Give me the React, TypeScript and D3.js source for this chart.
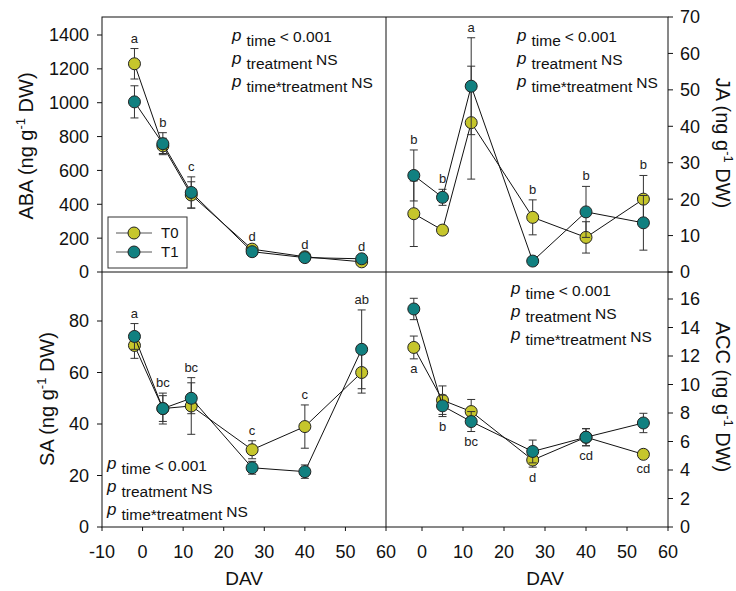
import * as d3 from "d3";
import React from "react";

// sampling days (DAV)
const days = [-2, 5, 12, 27, 40, 54];

// ABA (ng g-1 DW)
const abaT0 = [1230, 745, 455, 135, 90, 60];
const abaT0Err = [90, 45, 78, 15, 10, 10];
const abaT1 = [1005, 758, 470, 120, 85, 78];
const abaT1Err = [95, 65, 92, 15, 10, 10];
const abaLetters = ["a", "b", "c", "d", "d", "d"];

// JA (ng g-1 DW)
const jaT0 = [16, 11.5, 41, 15, 9.5, 20];
const jaT0Err = [9, 1, 15.5, 4.8, 4.3, 6.5];
const jaT1 = [26.5, 20.5, 51, 3, 16.5, 13.5];
const jaT1Err = [7, 2.2, 13.3, 1, 7, 7.5];
const jaLetters = ["b", "b", "a", "b", "b", "b"];

// SA (ng g-1 DW)
const saT0 = [70.5, 46, 47, 30, 39, 60];
const saT0Err = [5, 6, 11, 3.5, 8.4, 8];
const saT1 = [74, 46, 50, 23, 21.5, 69];
const saT1Err = [5, 5, 6, 2.5, 2.6, 15.3];
const saLetters = ["a", "bc", "bc", "c", "c", "ab"];

// ACC (ng g-1 DW)
const accT0 = [12.6, 8.9, 8.1, 4.7, 6.3, 5.1];
const accT0Err = [0.8, 1.0, 0.85, 0.5, 0.6, 0.3];
const accT1 = [15.3, 8.5, 7.4, 5.3, 6.3, 7.3];
const accT1Err = [0.75, 0.75, 0.7, 0.8, 0.6, 0.68];
const accLetters = ["a", "b", "bc", "d", "cd", "cd"];

const xTicks = [-10, 0, 10, 20, 30, 40, 50, 60];

const font = "'Liberation Sans', Arial, sans-serif";
const colT0 = "#c6c62c";
const colT1 = "#118080";

// frame
const L = 102;
const M = 386;
const R = 668;
const T = 17;
const MID = 272;
const B = 527;

const xLeft = d3.scaleLinear().domain([-10, 60]).range([L, M]);
const xRight = d3.scaleLinear().domain([-10, 60]).range([381, R]);

const panels = [
  {
    key: "aba",
    x: xLeft,
    y: d3.scaleLinear().domain([0, 1400]).range([MID, 35]),
    ticks: d3.range(0, 1401, 200),
    side: "left",
    t0: abaT0, t0e: abaT0Err, t1: abaT1, t1e: abaT1Err,
    letters: abaLetters, letterPos: "above",
    pX: 232, pY: 40.5,
    title: "ABA", titleX: 33, titleY: 146,
  },
  {
    key: "ja",
    x: xRight,
    y: d3.scaleLinear().domain([0, 70]).range([MID, T]),
    ticks: d3.range(0, 71, 10),
    side: "right",
    t0: jaT0, t0e: jaT0Err, t1: jaT1, t1e: jaT1Err,
    letters: jaLetters, letterPos: "above",
    pX: 517, pY: 40.5,
    title: "JA", titleX: 716, titleY: 143,
  },
  {
    key: "sa",
    x: xLeft,
    y: d3.scaleLinear().domain([0, 80]).range([B, 321]),
    ticks: d3.range(0, 81, 20),
    side: "left",
    t0: saT0, t0e: saT0Err, t1: saT1, t1e: saT1Err,
    letters: saLetters, letterPos: "above",
    pX: 107, pY: 469,
    title: "SA", titleX: 54, titleY: 399,
  },
  {
    key: "acc",
    x: xRight,
    y: d3.scaleLinear().domain([0, 16]).range([B, 299]),
    ticks: d3.range(0, 17, 2),
    side: "right",
    t0: accT0, t0e: accT0Err, t1: accT1, t1e: accT1Err,
    letters: accLetters, letterPos: "below",
    pX: 511, pY: 294,
    title: "ACC", titleX: 716, titleY: 397,
  },
];

const PText = ({ x, y }: { x: number; y: number }) => {
  const rows = [
    ["time", "< 0.001"],
    ["treatment", "NS"],
    ["time*treatment", "NS"],
  ];
  return (
    <g fontFamily={font} fill="#111">
      {rows.map((r, i) => (
        <text key={i} x={x} y={y + i * 23} fontSize={17}>
          <tspan fontStyle="italic">p</tspan>
          <tspan fontSize={15.5} dx={5} dy={5}>{r[0]}</tspan>
          <tspan fontSize={15.5} dx={4} dy={-3.5}>{r[1]}</tspan>
        </text>
      ))}
    </g>
  );
};

const Series = ({ p, vals, errs, color }: any) => {
  const line = d3
    .line<number>()
    .x((_, i) => p.x(days[i]))
    .y((d) => p.y(d));
  return (
    <g>
      <path d={line(vals) || ""} fill="none" stroke="#111" strokeWidth={1} />
      {vals.map((v: number, i: number) => {
        const cx = p.x(days[i]);
        const y1 = p.y(v + errs[i]);
        const y2 = p.y(v - errs[i]);
        return (
          <g key={i} stroke="#333" strokeWidth={1}>
            <line x1={cx} x2={cx} y1={y1} y2={y2} />
            <line x1={cx - 4} x2={cx + 4} y1={y1} y2={y1} />
            <line x1={cx - 4} x2={cx + 4} y1={y2} y2={y2} />
          </g>
        );
      })}
      {vals.map((v: number, i: number) => (
        <circle
          key={i}
          cx={p.x(days[i])}
          cy={p.y(v)}
          r={6}
          fill={color}
          stroke="#222"
          strokeWidth={1}
        />
      ))}
    </g>
  );
};

const Panel = ({ p }: any) => {
  const left = p.side === "left";
  const axisX = left ? L : R;
  return (
    <g>
      {/* y axis ticks */}
      {p.ticks.map((t: number) => (
        <g key={t}>
          <line
            x1={axisX}
            x2={left ? axisX - 5 : axisX + 5}
            y1={p.y(t)}
            y2={p.y(t)}
            stroke="#111"
          />
          <text
            x={left ? 89 : 680}
            y={p.y(t)}
            dy="0.36em"
            textAnchor={left ? "end" : "start"}
            fontSize={18}
            fontFamily={font}
            fill="#111"
          >
            {t}
          </text>
        </g>
      ))}
      {/* axis title */}
      <text
        transform={`translate(${p.titleX},${p.titleY}) rotate(${left ? -90 : 90})`}
        textAnchor="middle"
        fontSize={20}
        fontFamily={font}
        fill="#111"
      >
        {p.title} (ng g
        <tspan fontSize={13} dy={-8}>-1</tspan>
        <tspan dy={8}> DW)</tspan>
      </text>
      <Series p={p} vals={p.t0} errs={p.t0e} color={colT0} />
      <Series p={p} vals={p.t1} errs={p.t1e} color={colT1} />
      {/* significance letters */}
      {p.letters.map((s: string, i: number) => {
        const hi = Math.max(p.t0[i] + p.t0e[i], p.t1[i] + p.t1e[i]);
        const lo = Math.min(p.t0[i] - p.t0e[i], p.t1[i] - p.t1e[i]);
        const ly = p.letterPos === "above" ? p.y(hi) - 6 : p.y(lo) + 14.5;
        return (
          <text
            key={i}
            x={p.x(days[i])}
            y={ly}
            textAnchor="middle"
            fontSize={13}
            fontFamily={font}
            fill="#222"
          >
            {s}
          </text>
        );
      })}
      <PText x={p.pX} y={p.pY} />
    </g>
  );
};

const XAxis = ({ x, from }: any) => (
  <g>
    {xTicks
      .filter((t) => t >= from)
      .map((t) => (
        <g key={t}>
          <line x1={x(t)} x2={x(t)} y1={B} y2={B + 4} stroke="#111" />
          <text
            x={x(t)}
            y={558}
            textAnchor="middle"
            fontSize={18}
            fontFamily={font}
            fill="#111"
          >
            {t}
          </text>
        </g>
      ))}
    <text
      x={(x(from) + x(60)) / 2 + (from > -10 ? 0 : 0)}
      y={585}
      textAnchor="middle"
      fontSize={19}
      fontFamily={font}
      fill="#111"
    >
      DAV
    </text>
  </g>
);

const Legend = () => (
  <g fontFamily={font}>
    <rect x={108} y={217} width={79} height={51} fill="#fff" stroke="#333" />
    {[
      { name: "T0", color: colT0 },
      { name: "T1", color: colT1 },
    ].map((d, i) => (
      <g key={d.name} transform={`translate(0,${233 + i * 19})`}>
        <line x1={116} x2={152} y1={0} y2={0} stroke="#555" />
        <circle cx={134} cy={0} r={6} fill={d.color} stroke="#222" />
        <text x={161} y={0} dy="0.36em" fontSize={15} fill="#111">
          {d.name}
        </text>
      </g>
    ))}
  </g>
);

export default function App() {
  return (
    <svg
      width={736}
      height={591}
      style={{ position: "absolute", left: 0, top: 0, background: "#fff" }}
    >
      <rect width={736} height={591} fill="#fff" />
      {panels.map((p) => (
        <Panel key={p.key} p={p} />
      ))}
      <Legend />
      {/* frame */}
      <g stroke="#111" strokeWidth={1} fill="none">
        <rect x={L} y={T} width={R - L} height={B - T} />
        <line x1={L} x2={R + 4} y1={MID} y2={MID} />
        <line x1={M} x2={M} y1={T} y2={B} />
      </g>
      <XAxis x={xLeft} from={-10} />
      <XAxis x={xRight} from={0} />
    </svg>
  );
}
